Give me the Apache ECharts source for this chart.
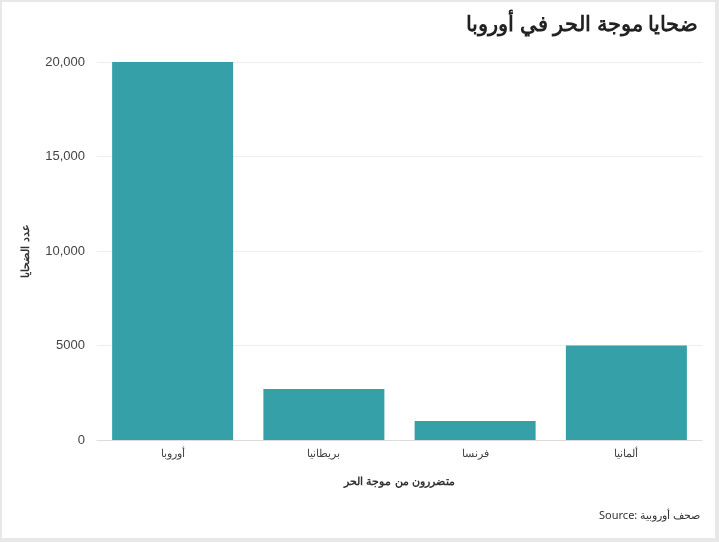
<!DOCTYPE html>
<html>
<head>
<meta charset="utf-8">
<script src="https://cdn.jsdelivr.net/npm/echarts@6/dist/echarts.min.js"></script>
<style>
  html, body { margin: 0; padding: 0; background: #e8e8e8; }
  #chart { position: absolute; left: 2px; top: 2px; width: 713px; height: 536px; background: #fff; }
</style>
</head>
<body>
<div id="chart"></div>
<script>
const categories = ['أوروبا', 'بريطانيا', 'فرنسا', 'ألمانيا'];
const victims = [20000, 2700, 1000, 5000];

const chart = echarts.init(document.getElementById('chart'));
chart.setOption({
    title: [
        {
            text: 'ضحايا موجة الحر في أوروبا',
            right: 12,
            top: 8,
            textStyle: { fontSize: 21, fontWeight: 'bold', color: '#222', fontFamily: 'Noto Sans' }
        },
        {
            text: 'Source: صحف أوروبية',
            right: 10,
            bottom: 12,
            textStyle: { fontSize: 11, fontWeight: 'normal', color: '#333', fontFamily: 'Noto Sans' }
        }
    ],
    grid: { left: 95, right: 13, top: 60, bottom: 98 },
    xAxis: {
        type: 'category',
        data: categories,
        name: 'متضررون من موجة الحر',
        nameLocation: 'middle',
        nameGap: 36,
        nameTextStyle: { fontSize: 11, fontWeight: 'bold', color: '#333' },
        axisTick: { show: false },
        axisLine: { lineStyle: { color: '#ddd' } },
        axisLabel: { fontSize: 11, color: '#444' }
    },
    yAxis: {
        type: 'value',
        min: 0,
        max: 20000,
        interval: 5000,
        name: 'عدد الضحايا',
        nameLocation: 'middle',
        nameGap: 66,
        nameTextStyle: { fontSize: 11, fontWeight: 'bold', color: '#333' },
        splitLine: { lineStyle: { color: '#eee' } },
        axisLabel: {
            fontSize: 13, color: '#444', margin: 12,
            formatter: v => v >= 10000 ? v.toLocaleString('en-US') : String(v)
        }
    },
    series: [{
        type: 'bar',
        data: victims,
        barCategoryGap: '20%',
        itemStyle: { color: '#35a0a8' }
    }]
});
</script>
</body>
</html>
